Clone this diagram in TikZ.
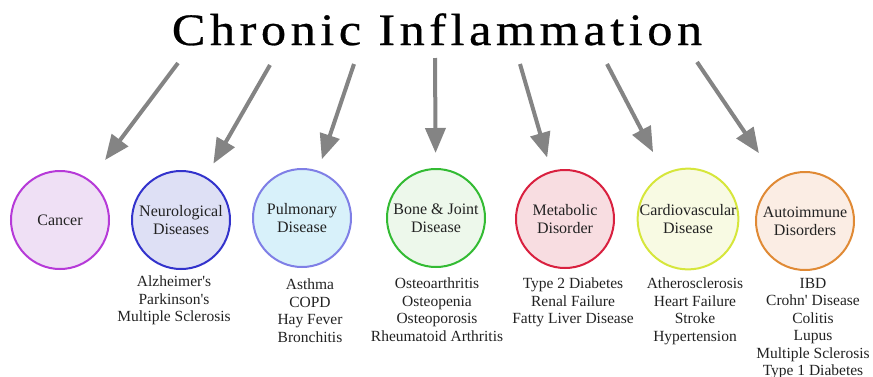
\documentclass[tikz,border=0pt]{standalone}
\usepackage{fontspec}
\setmainfont{Liberation Serif}[Ligatures=TeXOff]
\newfontfamily\titlefont[LetterSpace=10, FakeStretch=1.12, FakeBold=0.6]{Liberation Serif}
\usetikzlibrary{arrows.meta, positioning}

%% ── colours ────────────────────────────────
\definecolor{cancer_line}{HTML}{B63AD8}\definecolor{cancer_fill}{HTML}{EFE0F5}
\definecolor{neuro_line}{HTML}{3333CC}\definecolor{neuro_fill}{HTML}{DEE0F5}
\definecolor{pulm_line}{HTML}{7F7FE6}\definecolor{pulm_fill}{HTML}{D8F1FA}
\definecolor{bone_line}{HTML}{33BB33}\definecolor{bone_fill}{HTML}{EDF8EB}
\definecolor{meta_line}{HTML}{D9203F}\definecolor{meta_fill}{HTML}{F8DDE1}
\definecolor{cardio_line}{HTML}{D6E63B}\definecolor{cardio_fill}{HTML}{F8FAE3}
\definecolor{auto_line}{HTML}{E08A35}\definecolor{auto_fill}{HTML}{FBEDE4}
\definecolor{arrow_gray}{HTML}{848484}
\definecolor{ink}{HTML}{222222}

\begin{document}
\begin{tikzpicture}[
    x=1pt, y=-1pt,
    disease/.style={
        circle, draw, line width=2pt,
        minimum size=98pt, inner sep=0pt,
        align=center, text=ink,
        font=\fontsize{16}{18}\selectfont
    },
    symptoms/.style={
        anchor=north, inner sep=0pt,
        align=center, text=ink,
        font=\fontsize{15.5}{17.5}\selectfont
    },
    big_arrow/.style={
        -{Triangle[length=25pt, width=20pt]},
        draw=arrow_gray, line width=4pt
    }
]
\useasboundingbox (0,0) rectangle (873,376);

% ══════════════════════════════════════
%  TITLE
% ══════════════════════════════════════
\node[anchor=base, text=black, inner sep=0pt,
      font=\titlefont\fontsize{45}{50}\selectfont]
    (title) at (437,45) {Chronic Inflammation};

% ══════════════════════════════════════
%  CIRCLES
% ══════════════════════════════════════
\foreach \name/\x/\y/\col/\txt in {
    cancer/60/220/cancer/{Cancer},
    neuro/181/220/neuro/{Neurological\\Diseases},
    pulm/302/218/pulm/{Pulmonary\\Disease},
    bone/436/218/bone/{Bone \& Joint\\Disease},
    meta/565/219/meta/{Metabolic\\Disorder},
    cardio/688/219/cardio/{Cardiovascular\\Disease},
    auto/805/221/auto/{Autoimmune\\Disorders}}{
    \node[disease, draw=\col_line, fill=\col_fill] (\name) at (\x,\y) {\txt};
}

% ══════════════════════════════════════
%  LISTS
% ══════════════════════════════════════
\node[symptoms] (neuro_list) at (174,276)
    {Alzheimer's\\Parkinson's\\Multiple Sclerosis};
\node[symptoms] (pulm_list) at (310,279)
    {Asthma\\COPD\\Hay Fever\\Bronchitis};
\node[symptoms] (bone_list) at (437,278)
    {Osteoarthritis\\Osteopenia\\Osteoporosis\\Rheumatoid Arthritis};
\node[symptoms] (meta_list) at (573,278)
    {Type 2 Diabetes\\Renal Failure\\Fatty Liver Disease};
\node[symptoms] (cardio_list) at (695,278)
    {Atherosclerosis\\Heart Failure\\Stroke\\Hypertension};
\node[symptoms] (auto_list) at (813,278)
    {IBD\\Crohn' Disease\\Colitis\\Lupus\\Multiple Sclerosis\\Type 1 Diabetes};

% ══════════════════════════════════════
%  ARROWS
% ══════════════════════════════════════
\coordinate (s1) at (178,63);
\coordinate (s2) at (270,65);
\coordinate (s3) at (354,64);
\coordinate (s4) at (435,58);
\coordinate (s5) at (520,64);
\coordinate (s6) at (607,64);
\coordinate (s7) at (697,62);

\foreach \s/\t/\sh in {s1/cancer/25, s2/neuro/15, s3/pulm/12, s4/bone/15,
                       s5/meta/14, s6/cardio/24, s7/auto/32}{
    \draw[big_arrow, shorten >=\sh pt] (\s) -- (\t);
}

\end{tikzpicture}
\end{document}
